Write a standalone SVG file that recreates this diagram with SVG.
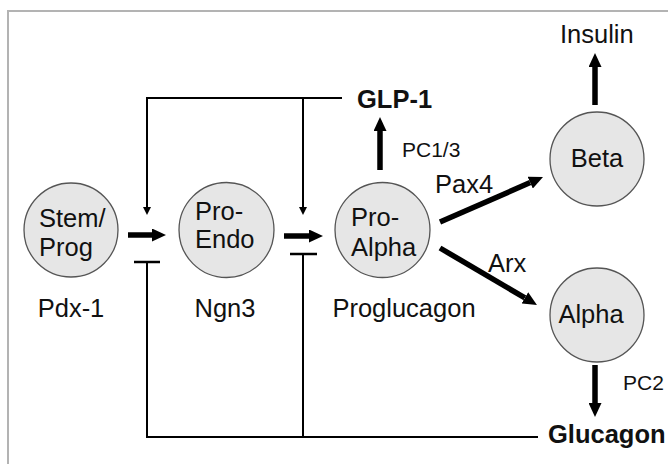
<svg xmlns="http://www.w3.org/2000/svg" width="668" height="464" viewBox="0 0 668 464">
<defs>
<style>
.t{font-family:"Liberation Sans",Arial,sans-serif;font-size:25.5px;fill:#111}
.b{font-family:"Liberation Sans",Arial,sans-serif;font-size:25.5px;font-weight:bold;fill:#111}
.s{font-family:"Liberation Sans",Arial,sans-serif;font-size:21px;fill:#111}
.node{fill:#e6e6e6;stroke:#555;stroke-width:1.3}
.thick{stroke:#000;stroke-width:5.5;fill:none}
.thin{stroke:#000;stroke-width:2;fill:none}
</style>
<marker id="big" markerUnits="userSpaceOnUse" markerWidth="14" markerHeight="13" refX="0" refY="6.5" orient="auto" viewBox="0 0 14 13">
<path d="M0,0 L14,6.5 L0,13 z" fill="#000"/>
</marker>
<marker id="small" markerUnits="userSpaceOnUse" markerWidth="8" markerHeight="8" refX="0" refY="4" orient="auto" viewBox="0 0 8 8">
<path d="M0,0 L8,4 L0,8 z" fill="#000"/>
</marker>
</defs>
<rect width="668" height="464" fill="#fff"/>
<path d="M8,464 V11 H668" fill="none" stroke="#b3b3b3" stroke-width="2"/>

<g id="stem">
<circle class="node" cx="71" cy="230" r="47"/>
<text class="t" x="39" y="227">Stem/</text>
<text class="t" x="39" y="256">Prog</text>
<text class="t" x="71" y="317" text-anchor="middle">Pdx-1</text>
</g>
<g id="proendo">
<circle class="node" cx="226.5" cy="230" r="47.5"/>
<text class="t" x="195" y="220">Pro-</text>
<text class="t" x="195" y="248">Endo</text>
<text class="t" x="225" y="317" text-anchor="middle">Ngn3</text>
</g>
<g id="proalpha">
<circle class="node" cx="382.5" cy="230" r="47.5"/>
<text class="t" x="351" y="226">Pro-</text>
<text class="t" x="351" y="256">Alpha</text>
<text class="t" x="404" y="317" text-anchor="middle">Proglucagon</text>
</g>
<g id="beta">
<circle class="node" cx="597" cy="159" r="47"/>
<text class="t" x="597" y="167" text-anchor="middle">Beta</text>
</g>
<g id="alpha">
<circle class="node" cx="597" cy="315" r="47"/>
<text class="t" x="591" y="323" text-anchor="middle">Alpha</text>
</g>
<g id="glp1"><text class="b" x="357" y="108">GLP-1</text></g>
<g id="insulin"><text class="t" x="560" y="43">Insulin</text></g>
<g id="glucagon"><text class="b" x="548" y="443">Glucagon</text></g>

<g id="connectors">
<line class="thick" x1="128" y1="235" x2="152" y2="235" marker-end="url(#big)"/>
<line class="thick" x1="284" y1="236" x2="309" y2="236" marker-end="url(#big)"/>
<line class="thick" x1="380" y1="170" x2="380" y2="131" marker-end="url(#big)"/>
<line class="thick" x1="595" y1="105" x2="595" y2="67" marker-end="url(#big)"/>
<line class="thick" x1="595" y1="365" x2="595" y2="403" marker-end="url(#big)"/>
<line class="thick" x1="440" y1="222" x2="530.2" y2="182.6" marker-end="url(#big)"/>
<line class="thick" x1="440" y1="248" x2="524.9" y2="297.9" marker-end="url(#big)"/>
<path class="thin" d="M342,98 H147 V207" marker-end="url(#small)"/>
<line class="thin" x1="303" y1="98" x2="303" y2="207" marker-end="url(#small)"/>
<path class="thin" d="M538,437 H147 V262"/>
<line class="thin" x1="303" y1="437" x2="303" y2="254"/>
<line x1="134" y1="262" x2="160" y2="262" stroke="#000" stroke-width="2.5"/>
<line x1="290" y1="254" x2="317" y2="254" stroke="#000" stroke-width="2.5"/>
<text class="s" x="402" y="157">PC1/3</text>
<text class="t" x="435" y="193">Pax4</text>
<text class="t" x="488" y="272">Arx</text>
<text class="s" x="623" y="390">PC2</text>
</g>
</svg>
